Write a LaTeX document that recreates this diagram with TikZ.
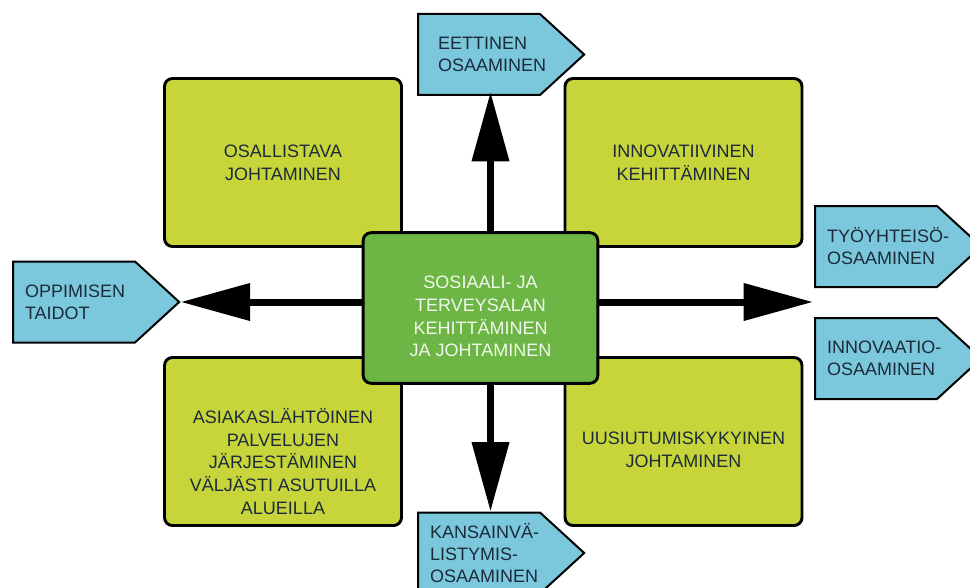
\documentclass[tikz,border=0pt]{standalone}
\usepackage{fontspec}
\setmainfont{Liberation Sans}
\usepackage{xcolor}
\usetikzlibrary{arrows.meta, positioning, shapes.symbols}

\definecolor{areagreen}{HTML}{C8D53A}
\definecolor{coregreen}{HTML}{6DB544}
\definecolor{skillblue}{HTML}{7BC8DD}
\definecolor{inkblue}{HTML}{1C2B3A}

\begin{document}
\begin{tikzpicture}[x=0.75pt, y=-0.75pt,
    area/.style={rectangle, draw, line width=2.2pt, rounded corners=6pt, fill=areagreen,
        minimum width=177.75pt, minimum height=126pt, align=center, text=inkblue,
        font=\fontsize{13.5}{17}\selectfont},
    skill/.style={signal, signal to=east, signal pointer angle=85, draw, line width=1.5pt,
        fill=skillblue, minimum width=124.5pt, minimum height=60.75pt, inner xsep=9pt,
        text width=73.5pt, align=left, text=inkblue, anchor=west,
        execute at begin node={\exhyphenpenalty=10000\hbadness=10000\hfuzz=100pt},
        font=\fontsize{13.5}{16.5}\selectfont},
    bigarrow/.style={line width=5.25pt, -{Triangle[length=52pt, width=27pt]}}]
    \useasboundingbox (0,0) rectangle (970,588);
    \clip (0,0) rectangle (970,588);

    % Four areas
    \node[area] (osall) at (283,162.5) {OSALLISTAVA\\JOHTAMINEN};
    \node[area] (innov) at (683.5,162.5) {INNOVATIIVINEN\\KEHITTÄMINEN};
    \node[area] (asiak) at (283,441.5) {\raisebox{-15pt}[\height][\depth]{\parbox{160pt}{\centering ASIAKASLÄHTÖINEN\\PALVELUJEN\\JÄRJESTÄMINEN\\VÄLJÄSTI ASUTUILLA\\ALUEILLA}}};
    \node[area] (uusiu) at (683.5,441.5) {\raisebox{-6pt}[\height][\depth]{\parbox{160pt}{\centering UUSIUTUMISKYKYINEN\\JOHTAMINEN}}};

    % Centre
    \node[rectangle, draw, line width=2.2pt, rounded corners=6pt, fill=coregreen,
        minimum width=176pt, minimum height=113pt, align=center, text=white!90!coregreen,
        font=\fontsize{13.5}{17}\selectfont] (core) at (480.5,308)
        {\raisebox{-6.5pt}[\height][\depth]{\parbox{150pt}{\centering SOSIAALI- JA\\TERVEYSALAN\\KEHITTÄMINEN\\JA JOHTAMINEN}}};

    % Skills
    \node[skill, inner xsep=15pt, text width=61.5pt] (eett) at (417,54.5) {EETTINEN\\OSAAMINEN};
    \node[skill] (oppi) at (12,302) {OPPIMISEN\\TAIDOT};
    \node[skill] (tyoy) at (814,246.5) {TYÖYHTEISÖ-\\OSAAMINEN};
    \node[skill] (inva) at (814,358.5) {INNOVAATIO-\\OSAAMINEN};
    \node[skill] (kans) at (417,553) {KANSAINVÄ-\\LISTYMIS-\\OSAAMINEN};
    \coordinate (gap) at (813,302);

    % Arrows out of the centre
    \draw[bigarrow, shorten >=-3pt] ([xshift=7.5pt]core.north) -- ([xshift=7.5pt]core.north |- eett.south);
    \draw[bigarrow] ([yshift=4.5pt]core.west) -- ([yshift=4.5pt]core.west -| oppi.east);
    \draw[bigarrow] ([yshift=4.5pt]core.east) -- (gap);
    \draw[bigarrow] ([xshift=7.5pt]core.south) -- ([xshift=7.5pt]core.south |- kans.north);
\end{tikzpicture}
\end{document}
